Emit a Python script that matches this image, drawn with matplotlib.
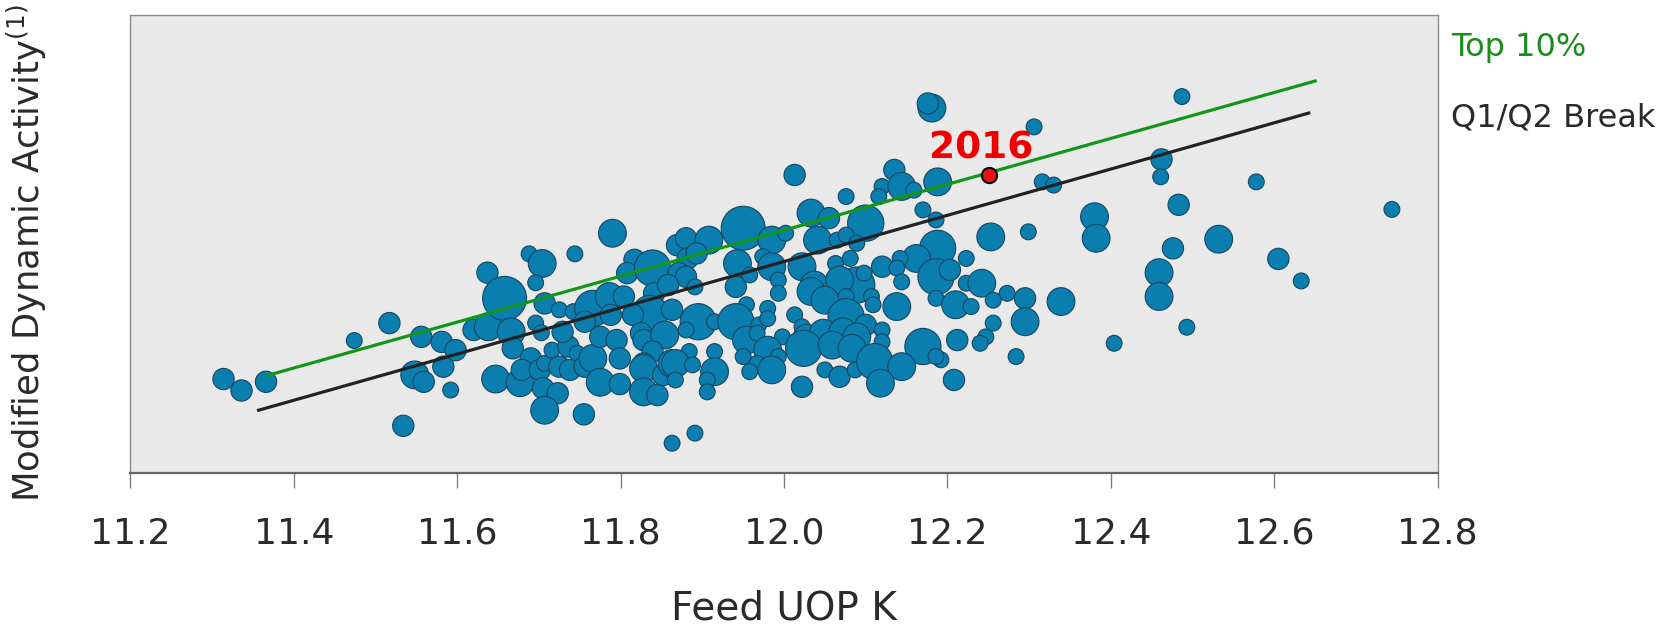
import matplotlib
matplotlib.use("Agg")
import matplotlib.pyplot as plt

# Feed UOP K, modified dynamic activity (relative units, axis 0-100), bubble size class
uop_k = [
    11.314, 11.336, 11.366, 11.474, 11.517, 11.556, 11.534, 11.548, 11.559, 11.581,
    11.583, 11.592, 11.598, 11.620, 11.638, 11.637, 11.658, 11.647, 11.666, 11.668,
    11.688, 11.704, 11.696, 11.707, 11.725, 11.696, 11.703, 11.677, 11.690, 11.679,
    11.701, 11.707, 11.716, 11.705, 11.723, 11.707, 11.755, 11.744, 11.790, 11.725,
    11.738, 11.736, 11.747, 11.729, 11.742, 11.756, 11.766, 11.766, 11.756, 11.786,
    11.804, 11.775, 11.795, 11.788, 11.799, 11.775, 11.799, 11.817, 11.808, 11.839,
    11.841, 11.836, 11.815, 11.825, 11.828, 11.854, 11.839, 11.828, 11.828, 11.828,
    11.845, 11.852, 11.863, 11.863, 11.860, 11.863, 11.869,
    12.181, 12.176, 12.306, 12.013, 12.135, 12.188, 12.120, 12.144, 12.159, 12.076,
    12.116, 12.316, 12.330, 11.950, 12.033, 12.055, 12.100, 12.170, 12.186, 12.253,
    12.299, 12.380, 12.382, 11.880, 11.908, 11.985, 12.002, 12.041, 12.065, 12.076,
    12.089, 12.188, 12.162, 12.142, 12.223, 11.882, 11.893, 11.943, 11.974, 11.985,
    12.022, 12.063, 12.081, 12.120, 12.138, 12.144, 12.186, 12.203, 11.871, 11.880,
    11.858, 11.891, 11.941, 11.958, 11.993, 12.037, 12.089, 12.098, 12.068, 12.223,
    12.242, 12.273, 12.256, 12.295, 12.339, 12.186, 12.210, 12.229, 11.993, 12.033,
    12.050, 12.076, 12.107, 12.138, 12.109, 11.954, 11.980, 12.013, 12.022, 12.076,
    12.100, 11.895, 11.915, 11.941, 11.969, 11.980, 12.295, 12.256, 12.247, 12.240,
    12.212, 12.404, 11.880, 11.954, 11.967, 11.998, 12.028, 12.048, 12.072, 12.089,
    12.120, 12.120, 12.024, 12.059, 12.083, 12.170, 11.884, 11.915, 11.980, 11.950,
    11.967, 11.993, 11.867, 11.888, 11.915, 11.906, 11.867, 11.958, 11.985, 12.050,
    12.068, 12.087, 12.111, 12.144, 12.192, 12.186, 12.208, 12.284, 12.118, 12.022,
    11.906, 11.891,
    12.487, 12.462, 12.461, 12.578, 12.744, 12.483, 12.532, 12.476, 12.605, 12.459,
    12.459, 12.633, 12.493,
]
activity = [
    20.6, 18.1, 20.0, 29.0, 32.8, 29.8, 10.4, 21.5, 20.0, 28.7,
    23.3, 18.2, 26.9, 31.3, 32.0, 43.8, 38.2, 20.6, 30.9, 27.3,
    47.9, 45.8, 41.6, 37.1, 35.7, 32.8, 30.7, 19.8, 25.1, 22.6,
    22.6, 24.0, 26.9, 18.6, 17.5, 13.8, 12.9, 47.9, 52.4, 23.3,
    22.6, 27.7, 26.2, 30.9, 35.3, 23.3, 25.1, 36.0, 33.1, 38.6,
    38.6, 29.8, 29.1, 34.6, 25.1, 19.9, 19.5, 46.6, 43.7, 44.8,
    39.3, 34.9, 34.6, 30.6, 29.1, 30.2, 26.6, 24.0, 22.9, 17.8,
    17.1, 21.5, 24.0, 6.6, 40.7, 35.7, 49.8,
    79.7, 80.7, 75.6, 65.1, 66.2, 63.6, 62.6, 62.6, 61.8, 60.4,
    60.4, 63.6, 62.9, 53.5, 56.8, 55.7, 54.6, 57.5, 55.3, 51.6,
    52.7, 56.0, 51.3, 51.3, 50.9, 50.9, 52.4, 50.9, 50.9, 52.0,
    50.2, 49.1, 46.9, 46.9, 46.9, 46.9, 48.0, 45.8, 47.3, 45.1,
    45.1, 45.8, 46.9, 45.1, 44.8, 41.8, 42.9, 44.4, 43.7, 42.9,
    41.1, 40.7, 40.7, 43.3, 42.2, 41.1, 41.1, 43.7, 42.2, 41.5,
    41.5, 39.3, 37.8, 38.2, 37.5, 38.2, 36.8, 36.4, 39.3, 39.7,
    37.8, 38.6, 38.6, 36.4, 36.8, 36.8, 36.0, 34.6, 32.0, 34.2,
    32.4, 33.1, 33.1, 33.1, 32.4, 33.8, 33.1, 32.8, 29.8, 28.4,
    29.1, 28.4, 31.3, 29.1, 30.6, 29.8, 29.5, 30.6, 30.9, 29.8,
    31.3, 28.7, 27.3, 28.0, 27.3, 27.7, 26.6, 26.6, 26.9, 25.5,
    24.0, 25.5, 24.0, 23.7, 22.2, 20.4, 20.4, 22.2, 22.6, 22.6,
    21.1, 22.6, 24.4, 23.3, 24.8, 25.5, 20.4, 25.5, 19.7, 18.9,
    17.8, 8.8,
    82.2, 68.5, 64.7, 63.6, 57.6, 58.6, 51.1, 49.1, 46.8, 43.8,
    38.6, 42.0, 31.9,
]
size_class = [
    2, 2, 2, 1, 2, 2, 2, 3, 2, 2,
    2, 1, 2, 2, 3, 2, 5, 3, 3, 2,
    1, 3, 1, 2, 1, 1, 1, 3, 2, 2,
    2, 1, 1, 2, 2, 3, 2, 1, 3, 2,
    2, 2, 1, 2, 1, 2, 3, 4, 2, 3,
    2, 2, 2, 2, 2, 3, 2, 2, 2, 4,
    2, 4, 2, 2, 2, 3, 2, 2, 3, 3,
    2, 2, 3, 1, 1, 2, 2,
    3, 2, 1, 2, 2, 3, 1, 3, 1, 1,
    1, 1, 1, 5, 3, 2, 4, 1, 1, 3,
    1, 3, 3, 2, 3, 3, 1, 3, 1, 1,
    1, 4, 3, 1, 1, 2, 2, 3, 1, 3,
    3, 1, 1, 2, 1, 1, 4, 2, 2, 2,
    2, 1, 2, 1, 1, 3, 4, 1, 3, 1,
    3, 1, 1, 2, 3, 1, 3, 1, 1, 3,
    3, 1, 1, 3, 1, 1, 1, 1, 1, 4,
    2, 4, 1, 4, 1, 1, 3, 1, 1, 1,
    2, 1, 1, 3, 1, 1, 3, 3, 3, 3,
    1, 1, 4, 3, 3, 4, 1, 1, 3, 1,
    1, 1, 3, 1, 3, 1, 1, 1, 3, 1,
    2, 1, 4, 3, 1, 1, 2, 1, 3, 2,
    1, 1,
    1, 2, 1, 1, 1, 2, 3, 2, 2, 3,
    3, 1, 1,
]

top10_k = [11.366, 12.652]
top10_act = [21.3, 85.7]
q1q2_k = [11.355, 12.644]
q1q2_act = [13.7, 78.7]

k_2016 = 12.251
act_2016 = 65.1

xticks = [11.2, 11.4, 11.6, 11.8, 12.0, 12.2, 12.4, 12.6, 12.8]
xtick_labels = ["11.2", "11.4", "11.6", "11.8", "12.0", "12.2", "12.4", "12.6", "12.8"]

plt.rcParams["font.family"] = ["DejaVu Sans"]

area = {1: 130, 2: 235, 3: 400, 4: 680, 5: 1000}
sizes = [area[c] for c in size_class]

fig = plt.figure(figsize=(16.76, 6.24), dpi=100)
ax = fig.add_axes([0.0778, 0.2412, 0.78, 0.7348])
ax.set_facecolor("#e9e9e9")

ax.scatter(uop_k, activity, s=sizes, c="#0b7eb0", edgecolors="#17465f",
           linewidths=0.8, zorder=2)
ax.plot(top10_k, top10_act, color="#12961a", lw=2.3, solid_capstyle="butt", zorder=3)
ax.plot(q1q2_k, q1q2_act, color="#222222", lw=2.3, solid_capstyle="butt", zorder=3)
ax.scatter([k_2016], [act_2016], s=120, c="#ee1111", edgecolors="black",
           linewidths=1.5, zorder=4)
ax.annotate("2016", xy=(k_2016, act_2016), xytext=(-6, 12), textcoords="offset points",
            ha="center", va="baseline", color="#ee0000", fontsize=27,
            fontweight="bold", zorder=5)

ax.set_xlim(11.2, 12.8)
ax.set_ylim(0, 100)
ax.set_xticks(xticks)
ax.set_xticklabels(xtick_labels)
ax.set_yticks([])
ax.tick_params(axis="x", direction="out", length=11, width=1.0, color="#808080",
               pad=20, labelsize=26, labelcolor="#2a2a2a")
for name, sp in ax.spines.items():
    sp.set_color("#8a8a8a")
    sp.set_linewidth(1.0)
ax.spines["bottom"].set_color("#666666")
ax.spines["bottom"].set_linewidth(1.6)

fig.text(0.4678, 0.008, "Feed UOP K", ha="center", va="baseline",
         fontsize=28, color="#2a2a2a")
fig.text(0.016, 0.595, "Modified Dynamic Activity$^{(1)}$", rotation=90,
         ha="center", va="center", fontsize=25.5, color="#2a2a2a")

fig.text(0.866, 0.910, "Top 10%", ha="left", va="baseline", fontsize=23,
         color="#1a8c1a")
fig.text(0.866, 0.797, "Q1/Q2 Break", ha="left", va="baseline", fontsize=23,
         color="#2a2a2a")

fig.savefig("out.png", dpi=100, facecolor="white")
